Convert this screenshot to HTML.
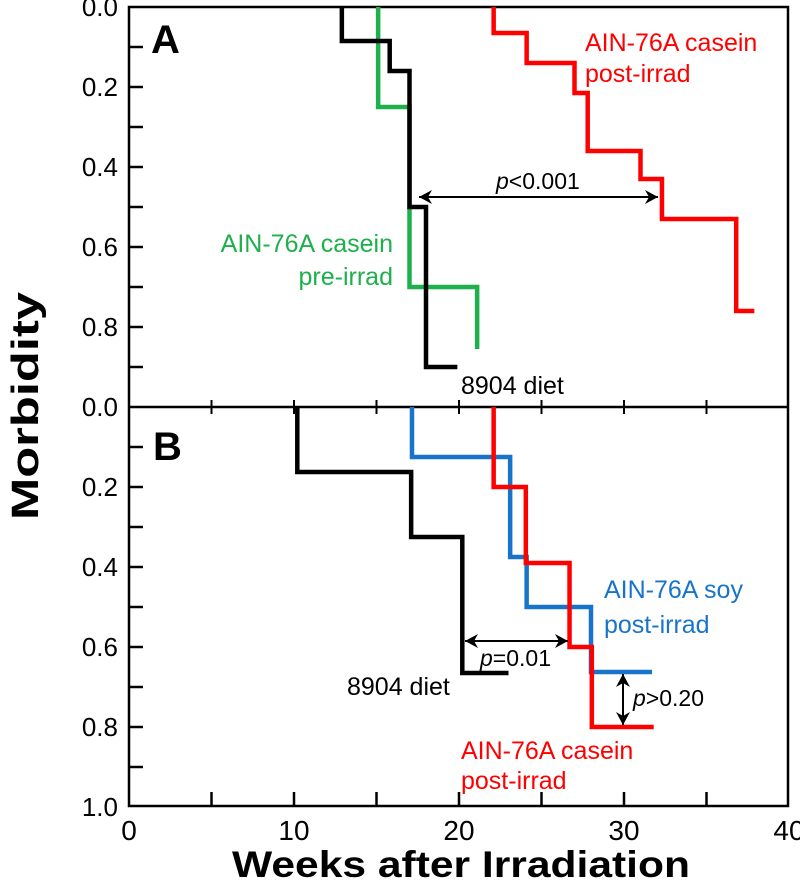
<!DOCTYPE html>
<html><head><meta charset="utf-8"><style>
body{margin:0;background:#fff;}
svg{display:block;font-family:"Liberation Sans",Arial,sans-serif;}
.nar{font-family:"Liberation Sans Narrow","Liberation Sans",Arial,sans-serif;}
</style></head><body>
<svg id="chart" width="800" height="882">
<g id="axes"></g><g id="series"></g><g id="ann"></g>
</svg>
<script>
const xTicks=[0,10,20,30,40];
const yTicksA=["0.0","0.2","0.4","0.6","0.8"];
const yTicksB=["0.0","0.2","0.4","0.6","0.8","1.0"];
// step curves: weeks & morbidity
const aBlackW=[12.9,15.8,17.0,18.0,19.9];
const aBlackV=[0.085,0.16,0.5,0.9,0.9];
const aGreenW=[15.1,17.0,21.1,21.1];
const aGreenV=[0.25,0.70,0.855,0.855];
const aRedW=[22.1,24.1,27.0,27.8,31.0,32.3,36.8,37.9];
const aRedV=[0.065,0.14,0.215,0.36,0.43,0.53,0.76,0.76];
const bBlackW=[10.2,17.1,20.2,23.0];
const bBlackV=[0.1625,0.325,0.665,0.665];
const bBlueW=[17.15,23.1,24.1,28.0,31.7];
const bBlueV=[0.125,0.375,0.5,0.6625,0.6625];
const bRedW=[22.1,24.05,26.7,28.05,31.8];
const bRedV=[0.2,0.39,0.6,0.80,0.80];

const NS="http://www.w3.org/2000/svg";
const X=w=>129+16.5*w;
const YA=v=>7+400*v;
const YB=v=>407+400*v;
function mk(parent,tag,attrs,txt){const e=document.createElementNS(NS,tag);for(const k in attrs)e.setAttribute(k,attrs[k]);if(txt!==undefined)e.textContent=txt;document.getElementById(parent).appendChild(e);return e;}
const ax='axes';
let e;
e=mk(ax,'rect',{x:129,y:7,width:659,height:799,fill:'none',stroke:'#000','stroke-width':2.5});

e=mk(ax,'line',{x1:129,y1:407,x2:788,y2:407,stroke:'#000','stroke-width':2.5});

for(let i=1;i<10;i++){
  e=mk(ax,'line',{x1:129,y1:YA(i/10),x2:143,y2:YA(i/10),stroke:'#000','stroke-width':2.5});
  
  e=mk(ax,'line',{x1:129,y1:YB(i/10),x2:143,y2:YB(i/10),stroke:'#000','stroke-width':2.5});
  
}
for(let w=5;w<40;w+=5){
  e=mk(ax,'line',{x1:X(w),y1:806,x2:X(w),y2:792,stroke:'#000','stroke-width':2.5});
  
  e=mk(ax,'line',{x1:X(w),y1:400,x2:X(w),y2:414,stroke:'#000','stroke-width':2});
  
}
yTicksA.forEach(t=>{e=mk(ax,'text',{x:118,y:YA(+t)+9,'text-anchor':'end','font-size':26,'class':'nar'},t);
  });
yTicksB.slice(1).forEach(t=>{e=mk(ax,'text',{x:118,y:YB(+t)+9,'text-anchor':'end','font-size':26,'class':'nar'},t);
  });
e=mk(ax,'text',{x:118,y:YB(0)+9,'text-anchor':'end','font-size':26,'class':'nar'},'0.0');

xTicks.forEach(t=>{e=mk(ax,'text',{x:X(t),y:840,'text-anchor':'middle','font-size':28,'class':'nar'},String(t));
  });
e=mk(ax,'text',{x:461,y:877,'text-anchor':'middle','font-size':37,'font-weight':'bold','class':'nar',textLength:458,lengthAdjust:'spacingAndGlyphs'},'Weeks after Irradiation');

e=mk(ax,'text',{x:0,y:0,'text-anchor':'middle','font-size':38,'font-weight':'bold','class':'nar',textLength:228,lengthAdjust:'spacingAndGlyphs',transform:'translate(38,406) rotate(-90)'},'Morbidity');

e=mk(ax,'text',{x:151,y:53,'font-size':40,'font-weight':'bold'},'A');

e=mk(ax,'text',{x:153,y:460,'font-size':40,'font-weight':'bold'},'B');


function step(W,V,Y,color,name){
  let d='M'+X(W[0])+','+Y(0);
  for(let i=0;i<W.length;i++){
    d+=' L'+X(W[i])+','+(i===0?Y(0):Y(V[i-1]))+' L'+X(W[i])+','+Y(V[i]);
    if(i<W.length-1)d+=' L'+X(W[i+1])+','+Y(V[i]);
  }
  const p=mk('series','path',{d:d,fill:'none',stroke:color,'stroke-width':4.5,'stroke-linejoin':'miter'});
  
  
}
step(aGreenW,aGreenV,YA,'#1db04b','a-casein-pre-irrad-curve');
step(aBlackW,aBlackV,YA,'#000','a-8904-diet-curve');
step(aRedW,aRedV,YA,'#ff0000','a-casein-post-irrad-curve');
step(bBlackW,bBlackV,YB,'#000','b-8904-diet-curve');
step(bBlueW,bBlueV,YB,'#1874c8','b-soy-post-irrad-curve');
step(bRedW,bRedV,YB,'#ff0000','b-casein-post-irrad-curve');

function arrowH(x1,x2,y,name){
  e=mk('ann','line',{x1:x1,y1:y,x2:x2,y2:y,stroke:'#000','stroke-width':2});
  
  e=mk('ann','path',{d:`M${x1},${y} l13,-7 l-4,7 l4,7 z M${x2},${y} l-13,-7 l4,7 l-4,7 z`,fill:'#000'});
  
}
arrowH(419,658,YA(0.475),'a-pvalue-arrow');
arrowH(465,568,641,'b-pvalue-arrow');
e=mk('ann','line',{x1:623,y1:674,x2:623,y2:725,stroke:'#000','stroke-width':2});

e=mk('ann','path',{d:'M623,674 l-7,13 l7,-4 l7,4 z M623,725 l-7,-13 l7,4 l7,-4 z',fill:'#000'});


function lbl(x,y,t,color,name,anchor,fs){
  e=mk('ann','text',{x:x,y:y,'font-size':fs||25,fill:color,'text-anchor':anchor||'start'});
  e.innerHTML=t;
  
}
lbl(496,189,'<tspan font-style="italic">p</tspan>&lt;0.001','#000','a-pvalue-label',null,23);
lbl(585,51,'AIN-76A casein','#ff0000','a-red-label-1');
lbl(585,82,'post-irrad','#ff0000','a-red-label-2');
lbl(393,252,'AIN-76A casein','#1db04b','a-green-label-1','end');
lbl(393,285,'pre-irrad','#1db04b','a-green-label-2','end');
lbl(461,394,'8904 diet','#000','a-black-label');
lbl(480,666,'<tspan font-style="italic">p</tspan>=0.01','#000','b-pvalue-label',null,23);
lbl(633,706,'<tspan font-style="italic">p</tspan>&gt;0.20','#000','b-pvalue-label-2',null,23);
lbl(347,695,'8904 diet','#000','b-black-label');
lbl(604,598,'AIN-76A soy','#1874c8','b-blue-label-1');
lbl(604,633,'post-irrad','#1874c8','b-blue-label-2');
lbl(461,759,'AIN-76A casein','#ff0000','b-red-label-1');
lbl(461,789,'post-irrad','#ff0000','b-red-label-2');
</script>
</body></html>
